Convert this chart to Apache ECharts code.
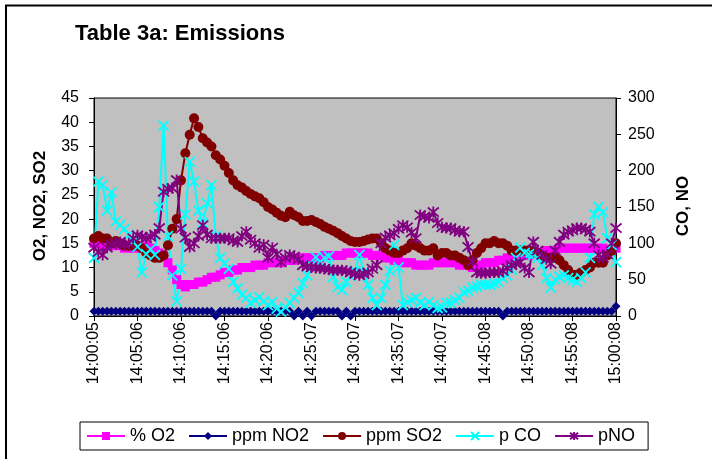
<!DOCTYPE html>
<html>
<head>
<meta charset="utf-8">
<script src="https://cdn.jsdelivr.net/npm/echarts@6/dist/echarts.min.js"></script>
<style>
html,body{margin:0;padding:0;background:#fff;}
#chart{width:712px;height:459px;}
</style>
</head>
<body>
<div id="chart"></div>
<script>
// Tick labels shown on the time axis (every 10th reading)
var tickLabels = ['14:00:05','14:05:06','14:10:06','14:15:06','14:20:06','14:25:07','14:30:07',
  '14:35:07','14:40:07','14:45:08','14:50:08','14:55:08','15:00:08'];

// % O2 (left axis)
var o2 = [
  15,15,14.5,15,14.5,15,14.5,14,14.5,14,
  14.5,14,14.5,14,13.5,13,12.5,11,9.5,7.5,
  6.5,6,6.5,6.5,7,7,7.5,8,8,8.5,
  9,9,9.5,9.5,10,10,10,10.5,10.5,10.5,
  11,11,11,11,11.5,11.5,11.5,12,12,12,
  12,12,12,12.5,12.5,12.5,12.5,12.5,13,13,
  13,13,13,13,12.5,12.5,12.5,12,12,11.5,
  11.5,11,11,11,10.5,10.5,10.5,10.5,11,11,
  11,11,11,11,10.5,10.5,10.5,10,10.5,10.5,
  11,11,11,11.5,11.5,12,12,12,12.5,12.5,
  12.5,13,13,13,13.5,13.5,13.5,14,14,14,
  14,14,14,14,14,14,14,14,13.5,13.5,
  14];

// ppm NO2 (left axis)
var no2 = [
  1,1,1,1,1,1,1,1,1,1,
  1,1,1,1,1,1,1,1,1,1,
  1,1,1,1,1,1,1,1,0,1,
  1,1,1,1,1,1,1,1,1,1,
  1,1,1,1,1,1,0,1,0,1,
  0,1,1,1,1,1,1,0,1,0,
  1,1,1,1,1,1,1,1,1,1,
  1,1,1,1,1,1,1,1,1,1,
  1,1,1,1,1,1,1,1,1,1,
  1,1,1,1,0,1,1,1,1,1,
  1,1,1,1,1,1,1,1,1,1,
  1,1,1,1,1,1,1,1,1,1,
  2];

// ppm SO2 (left axis)
var so2 = [
  16,16.5,16,16,15,15.5,15,14.5,14.5,14.5,
  14.5,14,13,12.5,12,12,12.5,14.6,18,20,
  28,33.6,37.4,40.8,39,36.7,35.8,35,33.2,32.3,
  31,29.5,28,27,26.5,25.8,25.2,24.7,24.3,23.5,
  22.5,22,21.3,20.7,20.4,21.5,20.8,20.4,19.6,19.6,
  19.8,19.4,19,18.4,18,17.6,17.1,16.5,16,15.5,
  15.3,15.3,15.5,15.8,16,16,15,14,13.5,13,
  13,13.5,14,15,14.5,14,13.5,13.5,14,12.5,
  13,13,12.5,12.5,12,11.5,10.5,11.5,13,14,
  15,15,15.5,15,15,14.5,13.5,13.5,13.5,13.5,
  13.5,13,13,12.5,12,12,12,11.5,10.5,9.5,
  8.5,8.5,9,9.5,10,11,11,11,12.5,13.5,
  15];

// p CO (right axis)
var co = [
  80,185,180,145,170,130,125,120,112,102,
  95,60,85,92,84,150,262,110,56,20,
  65,140,212,185,145,128,155,180,110,80,
  72,65,47,38,29,25,18,22,26,20,
  15,19,10,6,12,18,25,32,45,56,
  70,81,74,80,82,54,40,36,47,55,
  62,84,60,43,25,15,25,43,62,98,
  67,15,19,22,25,18,15,19,15,11,
  12,18,18,22,25,33,35,39,40,43,
  43,43,45,47,52,56,64,80,94,87,
  85,84,80,70,52,39,50,54,56,52,
  50,47,52,60,80,140,150,143,107,98,
  74];

// pNO (right axis)
var pno = [
  94,88,84,94,98,100,102,98,100,107,
  111,109,107,109,112,121,171,175,176,187,
  120,108,95,100,110,125,112,107,107,107,
  107,107,104,102,110,116,105,100,94,98,
  80,94,85,74,80,84,82,78,70,68,
  67,66,66,65,64,63,63,63,62,60,
  58,56,58,60,65,70,100,108,111,114,
  120,125,122,115,107,139,137,135,143,128,
  122,121,121,118,116,116,95,75,60,59,
  59,60,60,60,62,66,70,72,74,66,
  60,102,90,84,78,72,90,102,112,116,
  118,121,121,119,116,100,84,80,85,100,
  121];

// category axis: one reading every ~30 s; labels shown every 10th
var categories = [];
for (var i = 0; i < o2.length; i++) {
  if (i % 10 === 0) { categories.push(tickLabels[i / 10]); }
  else {
    var s = 5 + i * 30 + Math.ceil(i / 40);
    var hh = 14 + Math.floor(s / 3600), mm = Math.floor((s % 3600) / 60), ss = s % 60;
    categories.push(hh + ':' + (mm < 10 ? '0' : '') + mm + ':' + (ss < 10 ? '0' : '') + ss);
  }
}

var FONT = '"Liberation Sans", Arial, sans-serif';
var X_PATH = 'path://M0,0L10,10M10,0L0,10';
var STAR_PATH = 'path://M0,0L10,10M10,0L0,10M5,-1L5,11';

function mk(name, data, color, symbol, size, yIdx, strokeSym) {
  return {
    name: name, type: 'line', data: data, yAxisIndex: yIdx,
    symbol: symbol, symbolSize: size, showSymbol: true, showAllSymbol: true,
    lineStyle: { color: color, width: 2 },
    itemStyle: strokeSym ? { color: 'rgba(0,0,0,0)', borderColor: color, borderWidth: 1.8 }
                         : { color: color, borderColor: color, borderWidth: 0 },
    emphasis: { disabled: true },
    animation: false
  };
}

var chart = echarts.init(document.getElementById('chart'), null, { renderer: 'canvas' });
chart.setOption({
  backgroundColor: '#ffffff',
  animation: false,
  textStyle: { fontFamily: FONT },
  grid: {
    left: 94, right: 96, top: 98, bottom: 143,
    show: true, backgroundColor: '#c0c0c0', borderColor: '#000', borderWidth: 1
  },
  legend: {
    left: 80, top: 422,
    data: ['% O2', 'ppm NO2', 'ppm SO2', 'p CO', 'pNO'],
    borderColor: '#000', borderWidth: 1, padding: [5, 13, 5, 6],
    itemWidth: 38, itemHeight: 10, itemGap: 13,
    textStyle: { fontFamily: FONT, fontSize: 18, color: '#000' }
  },
  xAxis: {
    type: 'category', data: categories, boundaryGap: false,
    axisLine: { lineStyle: { color: '#000', width: 1 } },
    axisTick: { interval: 9, length: 5, lineStyle: { color: '#000' } },
    axisLabel: {
      interval: 9, rotate: 90, margin: 6, color: '#000',
      fontFamily: FONT, fontSize: 16,
      formatter: function (v, idx) { return idx % 10 === 0 ? tickLabels[idx / 10] : ''; }
    },
    splitLine: { show: false }
  },
  yAxis: [
    {
      type: 'value', min: 0, max: 45, interval: 5, position: 'left',
      axisLine: { show: true, lineStyle: { color: '#000', width: 1 } },
      axisTick: { show: true, length: 5, lineStyle: { color: '#000' } },
      axisLabel: { color: '#000', fontFamily: FONT, fontSize: 16, margin: 15 },
      splitLine: { show: false }
    },
    {
      type: 'value', min: 0, max: 300, interval: 50, position: 'right',
      axisLine: { show: true, lineStyle: { color: '#000', width: 1 } },
      axisTick: { show: true, length: 5, lineStyle: { color: '#000' } },
      axisLabel: { color: '#000', fontFamily: FONT, fontSize: 16, margin: 12 },
      splitLine: { show: false }
    }
  ],
  series: [
    mk('% O2', o2, '#ff00ff', 'rect', 9, 0, false),
    mk('ppm NO2', no2, '#000080', 'diamond', 9, 0, false),
    mk('ppm SO2', so2, '#800000', 'circle', 10, 0, false),
    mk('p CO', co, '#00ffff', X_PATH, 10, 1, true),
    mk('pNO', pno, '#800080', STAR_PATH, 11, 1, true)
  ],
  graphic: [
    { type: 'rect', silent: true, z: -1,
      shape: { x: 6, y: 5.5, width: 760, height: 520 },
      style: { fill: 'none', stroke: '#000', lineWidth: 2 } },
    { type: 'text', left: 75, top: 23,
      style: { text: 'Table 3a: Emissions', font: 'bold 22px ' + FONT, fill: '#000' } },
    { type: 'text', x: 40, y: 206, rotation: Math.PI / 2,
      style: { text: 'O2, NO2, SO2', font: 'bold 17px ' + FONT, fill: '#000',
               align: 'center', verticalAlign: 'middle' } },
    { type: 'text', x: 683, y: 206, rotation: Math.PI / 2,
      style: { text: 'CO, NO', font: 'bold 17px ' + FONT, fill: '#000',
               align: 'center', verticalAlign: 'middle' } }
  ]
});
</script>
</body>
</html>
